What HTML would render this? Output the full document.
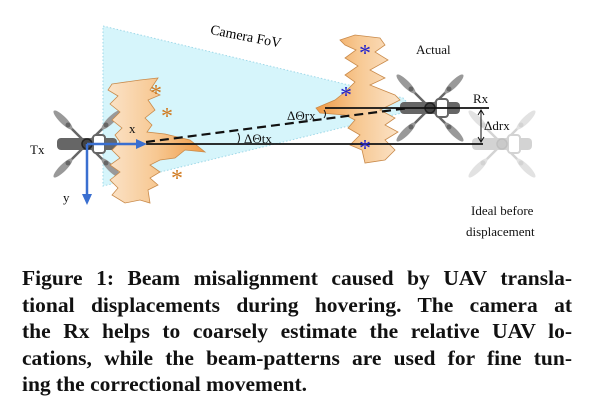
<!DOCTYPE html>
<html><head><meta charset="utf-8"><style>
body{margin:0;width:593px;height:407px;background:#fff;overflow:hidden;position:relative;font-family:"Liberation Serif",serif}
#cap{position:absolute;left:22px;top:265px;width:550px;font-weight:bold;font-size:21.5px;color:#111}
#cap div{height:26.5px;line-height:26.5px;text-align:justify;text-align-last:justify;white-space:nowrap}
#cap div.last{text-align-last:left}
</style></head><body>
<svg width="593" height="260" style="position:absolute;left:0;top:0" font-family="Liberation Serif, serif">
<defs>
<linearGradient id="gl" x1="0" y1="0" x2="1" y2="0"><stop offset="0" stop-color="#fbe3c8"/><stop offset="0.5" stop-color="#f7c892"/><stop offset="1" stop-color="#ef9a45"/></linearGradient>
<linearGradient id="gr" x1="1" y1="0" x2="0" y2="0"><stop offset="0" stop-color="#fbe3c8"/><stop offset="0.5" stop-color="#f7c892"/><stop offset="1" stop-color="#ef9a45"/></linearGradient>
<g id="drone">
<g stroke="#666" stroke-width="2.5"><line x1="-19" y1="-19" x2="19" y2="19"/><line x1="-19" y1="19" x2="19" y2="-19"/></g>
<g fill="#999"><ellipse cx="-24" cy="-24" rx="13" ry="3.5" transform="rotate(45 -24 -24)"/><ellipse cx="24" cy="-24" rx="13" ry="3.5" transform="rotate(-45 24 -24)"/><ellipse cx="-24" cy="24" rx="13" ry="3.5" transform="rotate(-45 -24 24)"/><ellipse cx="24" cy="24" rx="13" ry="3.5" transform="rotate(45 24 24)"/></g>
<g fill="#666"><circle cx="-19" cy="-19" r="2.5"/><circle cx="19" cy="-19" r="2.5"/><circle cx="-19" cy="19" r="2.5"/><circle cx="19" cy="19" r="2.5"/></g>
<rect x="-30" y="-6" width="60" height="12" rx="4" fill="#666"/>
<rect x="6" y="-9" width="12" height="18" rx="3" fill="#fff" stroke="#666" stroke-width="2"/>
<circle cx="0" cy="0" r="5" fill="#444" stroke="#222" stroke-width="1.5"/>
</g>
</defs>
<polygon points="103,26 403,98 414,110 103,186" fill="#d6f5fb" stroke="#9fd8e8" stroke-dasharray="1.5,2"/>
<text x="208" y="42" font-size="14" transform="rotate(11 251 47)">Camera FoV</text>
<use href="#drone" x="87" y="144"/>
<use href="#drone" x="430" y="108"/>
<use href="#drone" x="502" y="144" opacity="0.28"/>
<polygon fill="url(#gl)" stroke="#c98a4a" stroke-width="0.8" points="112,84 140,80 158,78 150,90 160,95 148,100 155,110 145,118 152,125 147,132 165,134 190,140 205,152 185,150 175,158 160,160 150,165 160,172 150,178 158,185 148,190 150,203 140,200 125,203 112,195 118,188 110,180 120,172 110,165 120,158 112,150 120,142 115,135 122,128 112,120 120,112 110,104 118,96 108,90"/>
<polygon fill="url(#gr)" stroke="#c98a4a" stroke-width="0.8" points="340,40 355,35 380,38 385,45 375,52 388,60 370,70 385,78 370,85 395,95 400,100 380,110 395,118 385,125 398,132 385,140 395,150 385,160 365,163 362,150 350,145 360,135 348,128 355,120 345,115 320,113 316,108 335,100 345,92 355,82 345,75 358,66 345,58 356,50 345,45"/>
<line x1="146" y1="144" x2="483" y2="144" stroke="#111" stroke-width="1.8"/>
<line x1="146" y1="142" x2="409" y2="108" stroke="#111" stroke-width="2.2" stroke-dasharray="9,5"/>
<line x1="325" y1="108" x2="489" y2="108" stroke="#111" stroke-width="1.8"/>
<g stroke="#111" stroke-width="1"><line x1="481" y1="111" x2="481" y2="141"/><polyline points="478,115 481,110 484,115" fill="none"/><polyline points="478,137 481,142 484,137" fill="none"/></g>
<path d="M238,133 Q241,138 238,143" fill="none" stroke="#111"/>
<path d="M324,110 Q327,114 324,118" fill="none" stroke="#111"/>
<g stroke="#3a6fd0" stroke-width="2.5" fill="#3a6fd0"><line x1="87" y1="144" x2="138" y2="144"/><polygon points="136,139 147,144 136,149" stroke="none"/><line x1="87" y1="144" x2="87" y2="196"/><polygon points="82,194 87,205 92,194" stroke="none"/></g>
<g font-size="24" text-anchor="middle">
<text x="156" y="101" fill="#d07a20">*</text><text x="167" y="124" fill="#d07a20">*</text><text x="177" y="186" fill="#d07a20">*</text>
<text x="365" y="61" fill="#2222cc">*</text><text x="346" y="103" fill="#2222cc">*</text><text x="365" y="156" fill="#2222cc">*</text>
</g>
<g font-size="13" fill="#111">
<text x="30" y="154">Tx</text>
<text x="129" y="133">x</text>
<text x="63" y="202">y</text>
<text x="416" y="54">Actual</text>
<text x="473" y="103">Rx</text>
<text x="484" y="130">Δdrx</text>
<text x="287" y="120">ΔΘrx</text>
<text x="244" y="143">ΔΘtx</text>
<text x="471" y="215">Ideal before</text>
<text x="466" y="236">displacement</text>
</g>
</svg>
<div id="cap">
<div>Figure 1: Beam misalignment caused by UAV transla-</div>
<div>tional displacements during hovering. The camera at</div>
<div>the Rx helps to coarsely estimate the relative UAV lo-</div>
<div>cations, while the beam-patterns are used for fine tun-</div>
<div class="last">ing the correctional movement.</div>
</div>
</body></html>
